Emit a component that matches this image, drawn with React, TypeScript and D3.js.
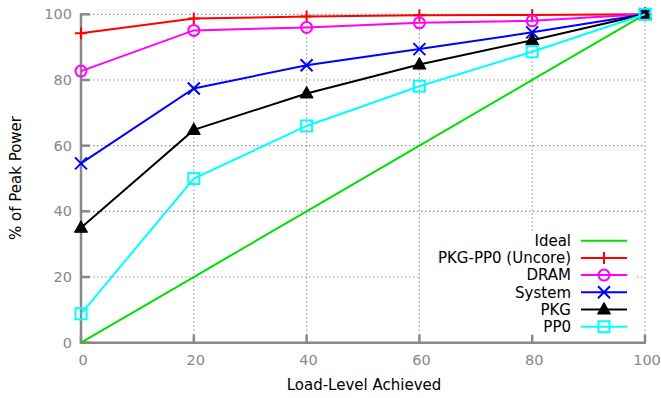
import React from "react";
import * as d3 from "d3";

const loadLevels = [0, 20, 40, 60, 80, 100];
const ideal = [0, 20, 40, 60, 80, 100];
const uncore = [94.2, 98.7, 99.3, 99.7, 99.8, 100];
const dram = [82.7, 95.1, 96.0, 97.4, 98.0, 100];
const system = [54.6, 77.4, 84.5, 89.4, 94.5, 100];
const pkg = [35.0, 64.8, 75.9, 84.7, 92.1, 100];
const pp0 = [8.8, 50.0, 66.0, 78.1, 88.6, 100];

const xTicks = [0, 20, 40, 60, 80, 100];
const yTicks = [0, 20, 40, 60, 80, 100];

type Marker = "none" | "plus" | "circle" | "cross" | "triangle" | "square";

const seriesNames = ["Ideal", "PKG-PP0 (Uncore)", "DRAM", "System", "PKG", "PP0"];
const seriesValues = [ideal, uncore, dram, system, pkg, pp0];
const seriesColors = ["#00e000", "#ff0000", "#ff00ff", "#0000ff", "#000000", "#00ffff"];
const seriesMarkers: Marker[] = ["none", "plus", "circle", "cross", "triangle", "square"];

const W = 661;
const H = 398;
const x = d3.scaleLinear().domain([0, 100]).range([81, 645]);
const y = d3.scaleLinear().domain([0, 100]).range([342.7, 14.3]);

const FONT = "DejaVu Sans, sans-serif";
const GRAY = "#888888";

function MarkerShape({ kind, cx, cy, color }: { kind: Marker; cx: number; cy: number; color: string }) {
  const s = 6;
  switch (kind) {
    case "plus":
      return (
        <path d={`M${cx - s},${cy}H${cx + s}M${cx},${cy - s}V${cy + s}`} stroke={color} strokeWidth={2} fill="none" />
      );
    case "circle":
      return <circle cx={cx} cy={cy} r={5.5} stroke={color} strokeWidth={2} fill="none" />;
    case "cross":
      return (
        <path
          d={`M${cx - s},${cy - s}L${cx + s},${cy + s}M${cx - s},${cy + s}L${cx + s},${cy - s}`}
          stroke={color}
          strokeWidth={2}
          fill="none"
        />
      );
    case "triangle":
      return (
        <path
          d={`M${cx},${cy - 7}L${cx + 6.5},${cy + 4.5}L${cx - 6.5},${cy + 4.5}Z`}
          fill={color}
          stroke={color}
          strokeWidth={1}
        />
      );
    case "square":
      return <rect x={cx - 5.5} y={cy - 5.5} width={11} height={11} stroke={color} strokeWidth={2} fill="none" />;
    default:
      return null;
  }
}

export default function App() {
  const line = d3
    .line<number>()
    .x((_, i) => x(loadLevels[i]))
    .y((d) => y(d));

  const legendTextX = 571;
  const legendLineX0 = 581;
  const legendLineX1 = 627;
  const legendY0 = 240.7;
  const legendStep = 17.2;

  return (
    <svg
      width={W}
      height={H}
      style={{ position: "absolute", left: 0, top: 0, background: "#fff" }}
      fontFamily={FONT}
    >
      {/* grid */}
      <g stroke={GRAY} strokeWidth={1.2} strokeDasharray="1.3,2.7">
        {xTicks.slice(1).map((t) => (
          <line key={`gx${t}`} x1={x(t)} x2={x(t)} y1={y(0)} y2={y(100)} />
        ))}
        {yTicks.slice(1).map((t) => (
          <line key={`gy${t}`} x1={x(0)} x2={x(100)} y1={y(t)} y2={y(t)} />
        ))}
      </g>

      {/* key area */}
      <rect x={421} y={232} width={215} height={104} fill="#fff" />

      {/* axes */}
      <g stroke={GRAY} strokeWidth={2.5} fill="none">
        <line x1={x(0)} x2={x(0)} y1={y(0) + 1} y2={y(100) - 1} />
        <line x1={x(0) - 1} x2={x(100) + 1} y1={y(0)} y2={y(0)} />
        {yTicks.map((t) => (
          <line key={`ty${t}`} x1={x(0)} x2={x(0) + 9} y1={y(t)} y2={y(t)} />
        ))}
        {xTicks.map((t) => (
          <line key={`tx${t}`} x1={x(t)} x2={x(t)} y1={y(0)} y2={y(0) - 8} />
        ))}
      </g>

      {/* tick labels */}
      <g fill={GRAY} fontSize={14.5}>
        {yTicks.map((t) => (
          <text key={`ly${t}`} x={72} y={y(t)} dy="0.35em" textAnchor="end">
            {t}
          </text>
        ))}
        {xTicks.map((t) => (
          <text key={`lx${t}`} x={x(t) + 2} y={365} textAnchor="middle">
            {t}
          </text>
        ))}
      </g>

      {/* axis titles */}
      <text x={364} y={390} textAnchor="middle" fontSize={15} fill="#000">
        Load-Level Achieved
      </text>
      <text
        transform={`translate(${21},${178}) rotate(-90)`}
        textAnchor="middle"
        fontSize={15}
        fill="#000"
      >
        % of Peak Power
      </text>

      {/* series */}
      {seriesValues.map((vals, si) => (
        <g key={`s${si}`}>
          <path d={line(vals) || ""} stroke={seriesColors[si]} strokeWidth={2} fill="none" />
          {vals.map((v, i) => (
            <MarkerShape
              key={i}
              kind={seriesMarkers[si]}
              cx={x(loadLevels[i])}
              cy={y(v)}
              color={seriesColors[si]}
            />
          ))}
        </g>
      ))}

      {/* legend */}
      {seriesNames.map((name, si) => {
        const ly = legendY0 + si * legendStep;
        return (
          <g key={`k${si}`}>
            <text x={legendTextX} y={ly} dy="0.35em" textAnchor="end" fontSize={15} fill="#000">
              {name}
            </text>
            <line x1={legendLineX0} x2={legendLineX1} y1={ly} y2={ly} stroke={seriesColors[si]} strokeWidth={2} />
            <MarkerShape
              kind={seriesMarkers[si]}
              cx={(legendLineX0 + legendLineX1) / 2}
              cy={ly}
              color={seriesColors[si]}
            />
          </g>
        );
      })}
    </svg>
  );
}
